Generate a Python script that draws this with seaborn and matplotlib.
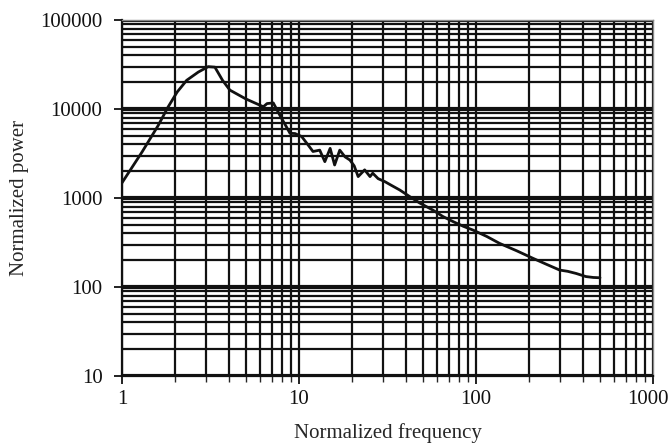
import matplotlib
matplotlib.use("Agg")
import matplotlib.pyplot as plt
import matplotlib.ticker as mticker
import matplotlib.transforms as mtransforms
import seaborn as sns
import pandas as pd

freq = [1.0, 1.3, 1.6, 1.82, 2.05, 2.32, 2.7, 3.07, 3.35, 3.7, 4.07, 5.0, 6.29, 6.6, 7.16,
        7.8, 8.9, 9.5, 10.36, 11.2, 12.0, 13.1, 14.0, 15.0, 15.9, 17.0, 18.2, 19.4, 20.5,
        21.6, 23.5, 25.2, 26.1, 28.0, 30.6, 33.0, 37.1, 42.3, 48.0, 57.0, 65.0, 74.4, 85.0,
        96.0, 115.0, 136.0, 170.0, 210.0, 250.0, 297.0, 330.0, 368.0, 418.0, 460.0, 502.0]
power = [1480, 3300, 6500, 10500, 15500, 21000, 26000, 29900, 29500, 21000, 16300, 13000,
         10600, 11500, 11700, 8500, 5330, 5300, 4900, 4000, 3330, 3450, 2560, 3610, 2350,
         3450, 2900, 2670, 2300, 1740, 2070, 1740, 1900, 1650, 1525, 1400, 1230, 1035, 880,
         733, 620, 542, 480, 437, 370, 309, 255, 210, 180, 155, 150, 142, 131, 128, 127]
x_ticks = [1, 10, 100, 1000]
y_ticks = [10, 100, 1000, 10000, 100000]

sns.set_style("ticks")
plt.rcParams['font.family'] = ['Liberation Serif', 'DejaVu Serif']

df = pd.DataFrame({"freq": freq, "power": power})

fig = plt.figure(figsize=(6.72, 4.43), dpi=100)
ax = fig.add_axes([0.1815, 0.1512, 0.7902, 0.8037])
ax.set_xscale("log")
ax.set_yscale("log")
ax.set_xlim(1, 1000)
ax.set_ylim(10, 100000)

ax.xaxis.set_major_locator(mticker.FixedLocator(x_ticks))
ax.yaxis.set_major_locator(mticker.FixedLocator(y_ticks))
ax.xaxis.set_minor_locator(mticker.LogLocator(base=10, subs=range(2, 10), numticks=20))
ax.yaxis.set_minor_locator(mticker.LogLocator(base=10, subs=range(2, 10), numticks=20))
ax.xaxis.set_major_formatter(mticker.FixedFormatter([str(v) for v in x_ticks]))
ax.yaxis.set_major_formatter(mticker.FixedFormatter([str(v) for v in y_ticks]))
ax.xaxis.set_minor_formatter(mticker.NullFormatter())
ax.yaxis.set_minor_formatter(mticker.NullFormatter())

ax.grid(which="minor", axis="both", color="#111111", lw=1.6)
ax.grid(which="major", axis="x", color="#111111", lw=1.6)
ax.grid(which="major", axis="y", color="#111111", lw=3.0)
ax.set_axisbelow(True)

sns.lineplot(data=df, x="freq", y="power", ax=ax, color="#111111", lw=2.0, zorder=5)

for s in ["top", "right"]:
    ax.spines[s].set_color("#888888")
    ax.spines[s].set_linewidth(1.0)
for s in ["left", "bottom"]:
    ax.spines[s].set_color("#111111")
    ax.spines[s].set_linewidth(1.6)

ax.tick_params(axis="both", which="major", direction="out", length=6, width=1.3,
               labelsize=15, colors="#111111", pad=4)
ax.tick_params(axis="y", which="major", pad=8)
ax.tick_params(axis="x", which="minor", direction="out", length=4, width=1.0)
ax.tick_params(axis="y", which="minor", length=0)

ax.set_xlabel("Normalized frequency", fontsize=15, labelpad=10)
ax.set_ylabel("Normalized power", fontsize=15, labelpad=8)

# keep the last x tick label inside the figure
last = ax.get_xticklabels()[-1]
last.set_transform(last.get_transform() + mtransforms.ScaledTranslation(-4 / 72, 0, fig.dpi_scale_trans))

fig.savefig("out.png", dpi=100)
